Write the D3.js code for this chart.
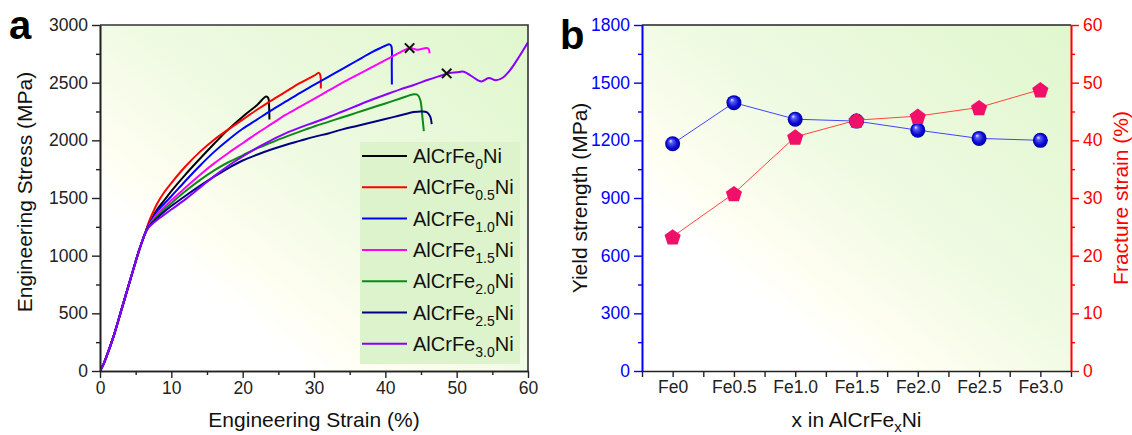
<!DOCTYPE html>
<html>
<head>
<meta charset="utf-8">
<script src="https://cdn.jsdelivr.net/npm/d3@7"></script>
<style>
  body { margin: 0; background: #fff; }
  svg { display: block; }
  text { font-family: "Liberation Sans", Arial, sans-serif; }
</style>
</head>
<body>
<svg id="chart" width="1132" height="435"></svg>
<script>
// ---- panel a: stress-strain curves [strain %, stress MPa] ----
const elastic = [[0, 0], [0.5, 60], [1, 140], [2, 320], [3, 530], [4, 740], [5, 950], [5.5, 1050], [6, 1140], [6.3, 1190]];
const curveFe00 = [[6.8, 1270], [7.5, 1345], [8, 1400], [9, 1480], [10, 1560], [12, 1705], [14, 1840], [16, 1970], [18, 2095], [20, 2205], [22, 2305], [23.3, 2380], [23.6, 2365], [23.7, 2300], [23.75, 2180]];
const curveFe05 = [[6.8, 1285], [7.5, 1385], [8, 1450], [9, 1550], [10, 1630], [12, 1775], [14, 1900], [16, 2005], [18, 2095], [20, 2180], [22, 2265], [24, 2345], [26, 2420], [28, 2495], [30, 2560], [30.7, 2585], [30.9, 2560], [30.95, 2450]];
const curveFe10 = [[6.8, 1265], [7.5, 1335], [8, 1385], [9, 1450], [10, 1515], [12, 1650], [14, 1780], [16, 1900], [18, 2005], [20, 2100], [22, 2180], [24, 2260], [26, 2335], [28, 2410], [30, 2480], [32, 2550], [34, 2620], [36, 2690], [38, 2760], [40, 2820], [40.6, 2832], [40.85, 2815], [40.9, 2650], [40.92, 2485]];
const curveFe15 = [[6.8, 1258], [7.5, 1320], [8, 1360], [9, 1420], [10, 1480], [12, 1590], [14, 1700], [16, 1800], [18, 1890], [20, 1975], [22, 2060], [24, 2140], [26, 2220], [28, 2290], [30, 2360], [32, 2430], [34, 2500], [36, 2565], [38, 2630], [40, 2695], [42, 2760], [43.4, 2800], [44.5, 2785], [45.8, 2800], [46.1, 2790], [46.2, 2755]];
const curveFe20 = [[6.8, 1252], [7.5, 1305], [8, 1340], [9, 1400], [10, 1455], [12, 1560], [14, 1655], [16, 1740], [18, 1810], [20, 1870], [22, 1930], [24, 1980], [26, 2030], [28, 2075], [30, 2120], [32, 2160], [34, 2200], [36, 2240], [38, 2280], [40, 2320], [42, 2360], [44, 2400], [44.5, 2395], [44.9, 2350], [45.2, 2200], [45.4, 2080]];
const curveFe25 = [[6.8, 1248], [7.5, 1295], [8, 1325], [9, 1380], [10, 1430], [12, 1520], [14, 1605], [16, 1685], [18, 1760], [20, 1825], [22, 1875], [24, 1920], [26, 1960], [28, 1995], [30, 2030], [32, 2060], [34, 2095], [36, 2125], [38, 2155], [40, 2185], [42, 2215], [44, 2245], [45, 2250], [45.8, 2245], [46.3, 2205], [46.5, 2140]];
const curveFe30 = [[6.8, 1242], [7.5, 1285], [8, 1310], [9, 1355], [10, 1400], [12, 1490], [14, 1590], [16, 1690], [18, 1780], [20, 1860], [22, 1935], [24, 2000], [26, 2060], [28, 2110], [30, 2155], [32, 2200], [34, 2250], [36, 2300], [38, 2350], [40, 2395], [42, 2440], [44, 2480], [46, 2525], [48, 2565], [48.6, 2580], [50, 2590], [51, 2595], [52, 2560], [53, 2520], [53.5, 2510], [54.5, 2540], [55.5, 2520], [56.5, 2545], [57.5, 2610], [58.5, 2700], [60, 2850]];
const crossMarks = [[43.4, 2800], [48.6, 2580]];
const legendSubs = ["0", "0.5", "1.0", "1.5", "2.0", "2.5", "3.0"];
const strainTicks = [0, 10, 20, 30, 40, 50, 60];
const stressTicks = [0, 500, 1000, 1500, 2000, 2500, 3000];

// ---- panel b: yield strength and fracture strain ----
const feLabels = ["Fe0", "Fe0.5", "Fe1.0", "Fe1.5", "Fe2.0", "Fe2.5", "Fe3.0"];
const yieldStrength = [1182, 1396, 1310, 1300, 1253, 1210, 1200];
const fractureStrain = [23.3, 30.8, 40.6, 43.5, 44.2, 45.7, 48.8];
const yieldTicks = [0, 300, 600, 900, 1200, 1500, 1800];
const fracTicks = [0, 10, 20, 30, 40, 50, 60];

const curves = [curveFe00, curveFe05, curveFe10, curveFe15, curveFe20, curveFe25, curveFe30];
const colors = ["#000000", "#ff0000", "#0000ff", "#ff00ff", "#0b8a1a", "#000080", "#8a00ff"];

const svg = d3.select("#chart");
const defs = svg.append("defs");
const fmt = d3.format("d");

function addBg(id) {
  const g = defs.append("linearGradient").attr("id", id)
    .attr("x1", 0).attr("y1", 1).attr("x2", 1).attr("y2", 0);
  g.append("stop").attr("offset", 0).attr("stop-color", "#ffffff");
  g.append("stop").attr("offset", 0.24).attr("stop-color", "#ffffff");
  g.append("stop").attr("offset", 0.34).attr("stop-color", "#fefef0");
  g.append("stop").attr("offset", 0.55).attr("stop-color", "#eefae2");
  g.append("stop").attr("offset", 1).attr("stop-color", "#e0f7cd");
}
addBg("bgA");
addBg("bgB");

const ball = defs.append("radialGradient").attr("id", "ball")
  .attr("cx", 0.5).attr("cy", 0.5).attr("r", 0.5).attr("fx", 0.35).attr("fy", 0.3);
ball.append("stop").attr("offset", 0).attr("stop-color", "#f0f0ff");
ball.append("stop").attr("offset", 0.25).attr("stop-color", "#5a5cf2");
ball.append("stop").attr("offset", 0.7).attr("stop-color", "#0a0ad8");
ball.append("stop").attr("offset", 1).attr("stop-color", "#0000a0");

function styleAxis(g, color) {
  g.select(".domain").attr("stroke", color).attr("stroke-width", 1.6);
  g.selectAll(".tick line").attr("stroke", color).attr("stroke-width", 1.4);
  g.selectAll(".tick text").attr("fill", color).attr("font-size", 17.5)
    .attr("font-family", '"Liberation Sans", Arial, sans-serif');
}

// ================= panel a =================
const A = { left: 100, right: 528, top: 25, bottom: 371 };
const xa = d3.scaleLinear().domain([0, 60]).range([A.left, A.right]);
const ya = d3.scaleLinear().domain([0, 3000]).range([A.bottom, A.top]);

svg.append("rect").attr("x", A.left).attr("y", A.top)
  .attr("width", A.right - A.left).attr("height", A.bottom - A.top)
  .attr("fill", "url(#bgA)");

defs.append("clipPath").attr("id", "clipA").append("rect")
  .attr("x", A.left).attr("y", A.top)
  .attr("width", A.right - A.left).attr("height", A.bottom - A.top);

// legend box
const leg = svg.append("g");
leg.append("rect").attr("x", 360).attr("y", 142).attr("width", 160).attr("height", 222)
  .attr("fill", "#dcf3cb");

const line = d3.line()
  .x((d) => xa(d[0]))
  .y((d) => ya(d[1]))
  .curve(d3.curveCatmullRom.alpha(0.5));

const plotA = svg.append("g").attr("clip-path", "url(#clipA)");
curves.forEach((c, i) => {
  plotA.append("path")
    .datum(elastic.concat(c))
    .attr("fill", "none")
    .attr("stroke", colors[i])
    .attr("stroke-width", 2)
    .attr("stroke-linejoin", "round")
    .attr("d", line);
});

plotA.selectAll(".cross").data(crossMarks).join("path")
  .attr("class", "cross")
  .attr("d", d3.symbol().type(d3.symbolX).size(60))
  .attr("transform", (d) => `translate(${xa(d[0])},${ya(d[1])})`)
  .attr("stroke", "#111").attr("stroke-width", 2).attr("fill", "none");

legendSubs.forEach((s, i) => {
  const y = 156 + i * 31.3;
  leg.append("line").attr("x1", 362).attr("x2", 407).attr("y1", y).attr("y2", y)
    .attr("stroke", colors[i]).attr("stroke-width", 2);
  const t = leg.append("text").attr("x", 413).attr("y", y + 7)
    .attr("font-size", 20).attr("fill", "#111");
  t.append("tspan").text("AlCrFe");
  t.append("tspan").attr("dy", 6).attr("font-size", 14).text(s);
  t.append("tspan").attr("dy", -6).text("Ni");
});

// axes a
svg.append("g").attr("transform", `translate(${A.left},0)`)
  .call(d3.axisLeft(ya).tickValues(d3.range(250, 3000, 500)).tickSize(4).tickFormat("").tickSizeOuter(0))
  .call((g) => styleAxis(g, "#222"));
svg.append("g").attr("transform", `translate(${A.left},0)`)
  .call(d3.axisLeft(ya).tickValues(stressTicks).tickSize(8).tickPadding(4).tickFormat(fmt).tickSizeOuter(0))
  .call((g) => styleAxis(g, "#222"));
svg.append("g").attr("transform", `translate(0,${A.bottom})`)
  .call(d3.axisBottom(xa).tickValues(d3.range(5, 60, 10)).tickSize(4).tickFormat("").tickSizeOuter(0))
  .call((g) => styleAxis(g, "#222"));
svg.append("g").attr("transform", `translate(0,${A.bottom})`)
  .call(d3.axisBottom(xa).tickValues(strainTicks).tickSize(7).tickPadding(4).tickFormat(fmt).tickSizeOuter(0))
  .call((g) => styleAxis(g, "#222"));

svg.append("path")
  .attr("d", `M${A.left},${A.top}H${A.right}V${A.bottom}`)
  .attr("fill", "none").attr("stroke", "#333").attr("stroke-width", 1.6);

svg.append("text").attr("x", (A.left + A.right) / 2).attr("y", 427)
  .attr("text-anchor", "middle").attr("font-size", 21).attr("fill", "#111")
  .text("Engineering Strain (%)");
svg.append("text").attr("transform", `translate(32,192) rotate(-90)`)
  .attr("text-anchor", "middle").attr("font-size", 21).attr("fill", "#111")
  .text("Engineering Stress (MPa)");

svg.append("text").attr("x", 9).attr("y", 39)
  .attr("font-family", '"Open Sans", sans-serif').attr("font-weight", 700)
  .attr("font-size", 40).attr("fill", "#000").text("a");

// ================= panel b =================
const B = { left: 642, right: 1071, top: 25, bottom: 371 };
const xb = d3.scaleLinear().domain([0, 7]).range([B.left, B.right]);
const yl = d3.scaleLinear().domain([0, 1800]).range([B.bottom, B.top]);
const yr = d3.scaleLinear().domain([0, 60]).range([B.bottom, B.top]);

svg.append("rect").attr("x", B.left).attr("y", B.top)
  .attr("width", B.right - B.left).attr("height", B.bottom - B.top)
  .attr("fill", "url(#bgB)");

// bottom axis
svg.append("g").attr("transform", `translate(0,${B.bottom})`)
  .call(d3.axisBottom(xb).tickValues(d3.range(0, 7.01, 0.5)).tickSize(6).tickFormat("").tickSizeOuter(0))
  .call((g) => styleAxis(g, "#222"));
svg.append("g").attr("transform", `translate(0,${B.bottom})`)
  .call(d3.axisBottom(xb).tickValues(feLabels.map((d, i) => i + 0.5)).tickSize(0).tickPadding(10)
    .tickFormat((d, i) => feLabels[i]).tickSizeOuter(0))
  .call((g) => styleAxis(g, "#222"))
  .call((g) => g.select(".domain").remove());
// top border
svg.append("line").attr("x1", B.left).attr("x2", B.right).attr("y1", B.top).attr("y2", B.top)
  .attr("stroke", "#222").attr("stroke-width", 1.6);

// left axis (blue)
svg.append("g").attr("transform", `translate(${B.left},0)`)
  .call(d3.axisLeft(yl).tickValues(d3.range(150, 1800, 300)).tickSize(4).tickFormat("").tickSizeOuter(0))
  .call((g) => styleAxis(g, "#0000ff"));
svg.append("g").attr("transform", `translate(${B.left},0)`)
  .call(d3.axisLeft(yl).tickValues(yieldTicks).tickSize(8).tickPadding(4).tickFormat(fmt).tickSizeOuter(0))
  .call((g) => styleAxis(g, "#0000ff"));
// right axis (red)
svg.append("g").attr("transform", `translate(${B.right},0)`)
  .call(d3.axisRight(yr).tickValues(d3.range(5, 60, 10)).tickSize(4).tickFormat("").tickSizeOuter(0))
  .call((g) => styleAxis(g, "#ff0000"));
svg.append("g").attr("transform", `translate(${B.right},0)`)
  .call(d3.axisRight(yr).tickValues(fracTicks).tickSize(8).tickPadding(4).tickFormat(fmt).tickSizeOuter(0))
  .call((g) => styleAxis(g, "#ff0000"));

// series lines
const lineY = d3.line().x((d, i) => xb(i + 0.5)).y((d) => yl(d));
const lineF = d3.line().x((d, i) => xb(i + 0.5)).y((d) => yr(d));
svg.append("path").datum(yieldStrength).attr("d", lineY)
  .attr("fill", "none").attr("stroke", "#3030ff").attr("stroke-width", 0.9);
svg.append("path").datum(fractureStrain).attr("d", lineF)
  .attr("fill", "none").attr("stroke", "#ff3030").attr("stroke-width", 0.9);

svg.selectAll(".ball").data(yieldStrength).join("circle")
  .attr("class", "ball")
  .attr("cx", (d, i) => xb(i + 0.5)).attr("cy", (d) => yl(d))
  .attr("r", 7.5).attr("fill", "url(#ball)");

const pentagon = (r) => {
  const pts = d3.range(5).map((k) => {
    const a = -Math.PI / 2 + (k * 2 * Math.PI) / 5;
    return [r * Math.cos(a), r * Math.sin(a)];
  });
  return "M" + pts.map((p) => p.join(",")).join("L") + "Z";
};
svg.selectAll(".pent").data(fractureStrain).join("path")
  .attr("class", "pent")
  .attr("d", pentagon(8.5))
  .attr("transform", (d, i) => `translate(${xb(i + 0.5)},${yr(d) + 1})`)
  .attr("fill", "#f0106a");

// titles b
const xt = svg.append("text").attr("x", (B.left + B.right) / 2).attr("y", 427)
  .attr("text-anchor", "middle").attr("font-size", 21).attr("fill", "#111");
xt.append("tspan").text("x in AlCrFe");
xt.append("tspan").attr("dy", 5).attr("font-size", 15).text("x");
xt.append("tspan").attr("dy", -5).text("Ni");

svg.append("text").attr("transform", `translate(587,${(B.top + B.bottom) / 2}) rotate(-90)`)
  .attr("text-anchor", "middle").attr("font-size", 21).attr("fill", "#111")
  .text("Yield strength (MPa)");
svg.append("text").attr("transform", `translate(1128,${(B.top + B.bottom) / 2}) rotate(-90)`)
  .attr("text-anchor", "middle").attr("font-size", 21).attr("fill", "#ff0000")
  .text("Fracture strain (%)");

svg.append("text").attr("x", 560).attr("y", 49)
  .attr("font-family", '"Open Sans", sans-serif').attr("font-weight", 700)
  .attr("font-size", 40).attr("fill", "#000").text("b");
</script>
</body>
</html>
